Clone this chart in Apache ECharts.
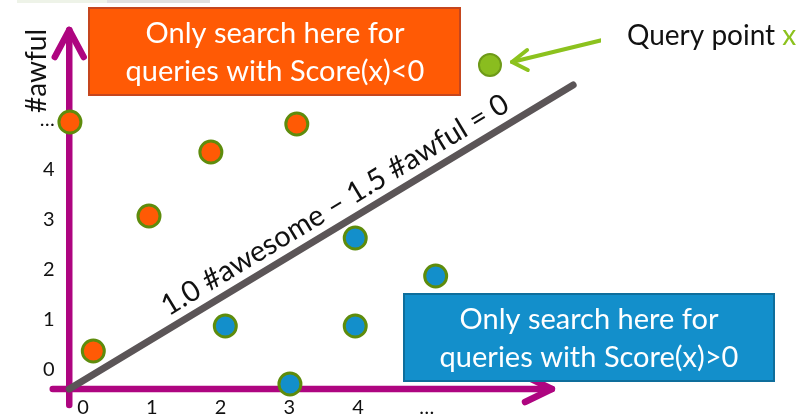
<!DOCTYPE html>
<html><head><meta charset="utf-8">
<script src="https://cdn.jsdelivr.net/npm/echarts@6/dist/echarts.min.js"></script>
<style>html,body{margin:0;padding:0;background:#fff}#c{width:804px;height:419px}</style>
</head><body><div id="c"></div>
<script>
// tick labels
const xTicks = ['0','1','2','3','4','…'];
const yTicks = ['0','1','2','3','4','…'];
// data points [#awesome, #awful]
const negPoints = [[-0.19,4.96],[0.15,0.38],[0.96,3.08],[1.86,4.36],[3.11,4.92]];
const posPoints = [[2.07,0.88],[3.01,-0.28],[3.96,2.64],[3.96,0.88],[5.13,1.88]];
const queryPoint = [[5.92,6.1]];
// decision boundary
const boundary = [[-0.2,-0.38],[7.13,5.7]];
// drawn axes and arrows (data coords)
const xAxisLine = [[-0.44,-0.38],[6.82,-0.38]];
const xArrow = [[6.43,-0.12],[6.82,-0.38],[6.43,-0.64]];
const yAxisLine = [[-0.2,-0.7],[-0.2,6.8]];
const yArrow = [[-0.41,6.26],[-0.2,6.8],[0.01,6.26]];
const queryArrow = [[7.74,6.66],[6.24,6.16]];
const queryArrowHead = [[6.46,6.4],[6.24,6.16],[6.47,6.0]];

const FONT = 'Lato';
const MAG = '#AE0580';
const chart = echarts.init(document.getElementById('c'), null, {renderer:'canvas'});

function lineS(data, color, width, z){
  return {type:'line', data, symbol:'none', clip:false, silent:true, z:z||2,
    lineStyle:{color, width, cap:'round', join:'round'}, animation:false};
}
const tickFmt = arr => v => (Number.isInteger(v) && v>=0 && v<arr.length) ? arr[v] : '';

chart.setOption({
  animation:false,
  grid:{left:48.625, right:205.4, top:20, bottom:24},
  xAxis:{type:'value', min:-0.5, max:7.5, interval:0.5,
    axisLine:{show:false}, axisTick:{show:false}, splitLine:{show:false},
    axisLabel:{formatter:tickFmt(xTicks), margin:3, fontSize:20, fontFamily:FONT, color:'#111', showMinLabel:true, showMaxLabel:true}},
  yAxis:{type:'value', min:-0.5, max:7, interval:0.5, offset:-14,
    axisLine:{show:false}, axisTick:{show:false}, splitLine:{show:false},
    axisLabel:{formatter:tickFmt(yTicks), margin:8, fontSize:20, fontFamily:FONT, color:'#111'}},
  series:[
    lineS(xAxisLine, MAG, 6.5, 1),
    lineS(xArrow, MAG, 6.5, 1),
    lineS(yAxisLine, MAG, 6.5, 1),
    lineS(yArrow, MAG, 6.5, 1),
    lineS(boundary, '#5B5557', 7, 2),
    lineS(queryArrow, '#8CC21E', 4, 2),
    lineS(queryArrowHead, '#8CC21E', 4, 2),
    {type:'scatter', data:negPoints, symbolSize:22, z:5,
      itemStyle:{color:'#FF5A05', borderColor:'#5E8C0C', borderWidth:3, opacity:1}},
    {type:'scatter', data:posPoints, symbolSize:22, z:5,
      itemStyle:{color:'#138FCB', borderColor:'#5E8C0C', borderWidth:3, opacity:1}},
    {type:'scatter', data:queryPoint, symbolSize:22, z:5,
      itemStyle:{color:'#8ABD1F', borderColor:'#6E9A18', borderWidth:2, opacity:1}}
  ],
  graphic:[
    {type:'rect', shape:{x:17,y:0,width:90,height:3}, style:{fill:'#EEF3E8'}},
    {type:'rect', shape:{x:107,y:0,width:103,height:3}, style:{fill:'#E0E0E0'}},
    {type:'rect', shape:{x:89,y:8,width:371,height:87}, style:{fill:'#FF5A05', stroke:'#C5461E', lineWidth:2}, z:10},
    {type:'text', x:275, y:53, z:11, style:{text:'Only search here for\nqueries with Score(x)<0', fill:'#fff', font:'29px '+FONT, align:'center', verticalAlign:'middle', lineHeight:38}},
    {type:'rect', shape:{x:404,y:294,width:370,height:87}, style:{fill:'#138FCB', stroke:'#0E6E9C', lineWidth:2}, z:10},
    {type:'text', x:589, y:339, z:11, style:{text:'Only search here for\nqueries with Score(x)>0', fill:'#fff', font:'29px '+FONT, align:'center', verticalAlign:'middle', lineHeight:38}},
    {type:'text', x:627, y:36, z:11, style:{text:'{a|Query point }{b|x}', font:'28px '+FONT, align:'left', verticalAlign:'middle',
      rich:{a:{fill:'#111', font:'28px '+FONT}, b:{fill:'#8CC21E', font:'28px '+FONT}}}},
    {type:'text', x:37, y:71, rotation:Math.PI/2, z:11, style:{text:'#awful', fill:'#111', font:'28px '+FONT, align:'center', verticalAlign:'middle'}},
    {type:'text', x:335, y:205, rotation:0.543, z:11, style:{text:'1.0 #awesome – 1.5 #awful = 0', fill:'#111', font:'29px '+FONT, align:'center', verticalAlign:'middle'}}
  ]
});
</script></body></html>
